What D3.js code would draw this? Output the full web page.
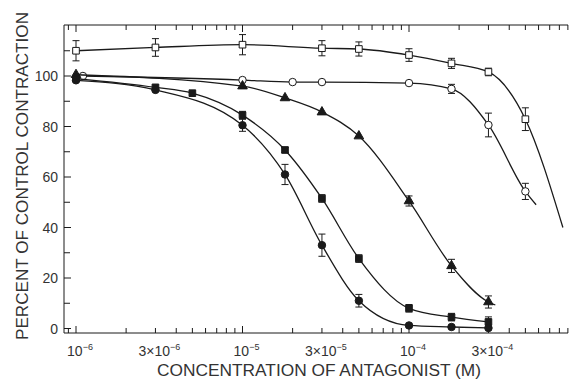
<!DOCTYPE html>
<html>
<head>
<meta charset="utf-8">
<script src="https://cdn.jsdelivr.net/npm/d3@7"></script>
<style>
  body { margin: 0; background: #fff; }
  svg { display: block; font-family: "Liberation Sans", Helvetica, Arial, sans-serif; }
</style>
</head>
<body>
<div id="chart"></div>
<script>
// values (concentration in M, % of control contraction)
const openSquareConc = [1e-6, 3e-6, 1e-5, 3e-5, 5e-5, 1e-4, 1.8e-4, 3e-4, 5e-4];
const openSquarePct  = [110, 111.3, 112.4, 111, 110.7, 108.3, 105, 101.6, 82.9];
const openSquareErr  = [4, 3.5, 4, 3, 2.8, 2.5, 2, 1.5, 4.5];
const openSquareTail = [8.4e-4, 40];

const openCircleConc = [1.1e-6, 1e-5, 2e-5, 3e-5, 1e-4, 1.8e-4, 3e-4, 5e-4];
const openCirclePct  = [100, 98.4, 97.6, 97.6, 97.2, 94.9, 80.6, 54.3];
const openCircleErr  = [0, 0, 0, 0, 0, 1.8, 4.7, 3.2];
const openCircleTail = [5.8e-4, 49];

const triangleConc = [1e-6, 1e-5, 1.8e-5, 3e-5, 5e-5, 1e-4, 1.8e-4, 3e-4];
const trianglePct  = [100.5, 96, 91.3, 85.7, 76.2, 50.5, 24.8, 10.5];
const triangleErr  = [0, 0, 0, 0, 0, 2, 2.6, 2.4];
const triangleTail = [3.3e-4, 9.3];

const filledSquareConc = [1e-6, 3e-6, 5e-6, 1e-5, 1.8e-5, 3e-5, 5e-5, 1e-4, 1.8e-4, 3e-4];
const filledSquarePct  = [99, 95.5, 93.2, 84.5, 70.7, 51.5, 27.7, 8, 4.5, 2.6];
const filledSquareErr  = [0, 0, 0, 1.5, 1, 1.5, 1.5, 1.5, 1.5, 2];

const filledCircleConc = [1e-6, 3e-6, 1e-5, 1.8e-5, 3e-5, 5e-5, 1e-4, 1.8e-4, 3e-4];
const filledCirclePct  = [98.3, 94.5, 80.5, 61, 33, 11, 1.2, 0.6, 0.2];
const filledCircleErr  = [0, 0, 2.4, 4, 4.4, 2.5, 0, 0, 0];

const xTickValues = [1e-6, 3e-6, 1e-5, 3e-5, 1e-4, 3e-4];
const xTickLabels = [["", "10", "-6"], ["3×", "10", "-6"], ["", "10", "-5"], ["3×", "10", "-5"], ["", "10", "-4"], ["3×", "10", "-4"]];
const yTickValues = [0, 20, 40, 60, 80, 100];

const width = 569, height = 380;
const frameLeft = 64, frameRight = 568, frameTop = 25, frameBottom = 333;

const x = d3.scaleLog().domain([1e-6, 1e-3]).range([76, 575.5]);
const y = d3.scaleLinear().domain([0, 100]).range([328.5, 76]);

const svg = d3.select("#chart").append("svg")
    .attr("width", width)
    .attr("height", height)
    .attr("viewBox", [0, 0, width, height]);

const ink = "#1a1a1a";
const textInk = "#333";

// frame: left, top, bottom axis lines
svg.append("g")
    .attr("stroke", ink)
    .attr("stroke-width", 1)
    .call(g => g.append("line").attr("x1", frameLeft).attr("x2", frameLeft).attr("y1", frameTop).attr("y2", frameBottom))
    .call(g => g.append("line").attr("x1", frameLeft).attr("x2", frameRight).attr("y1", frameTop).attr("y2", frameTop))
    .call(g => g.append("line").attr("x1", frameLeft).attr("x2", frameRight).attr("y1", frameBottom).attr("y2", frameBottom));

// log ticks on top and bottom
const logTicks = x.ticks().concat([9e-7]).filter(d => x(d) >= frameLeft && x(d) <= frameRight);
const isDecade = d => Math.abs(Math.log10(d) - Math.round(Math.log10(d))) < 1e-6;

svg.append("g")
    .attr("stroke", ink)
    .attr("stroke-width", 1)
    .call(g => g.selectAll("line.b")
        .data(logTicks)
        .join("line")
        .attr("class", "b")
        .attr("x1", d => x(d)).attr("x2", d => x(d))
        .attr("y1", frameBottom).attr("y2", d => frameBottom - (isDecade(d) ? 7 : 5)))
    .call(g => g.selectAll("line.t")
        .data(logTicks)
        .join("line")
        .attr("class", "t")
        .attr("x1", d => x(d)).attr("x2", d => x(d))
        .attr("y1", frameTop).attr("y2", d => frameTop + (isDecade(d) ? 7 : 5)));

// y ticks
svg.append("g")
    .attr("stroke", ink)
    .attr("stroke-width", 1)
    .selectAll("line")
    .data(d3.range(0, 111, 10))
    .join("line")
    .attr("x1", frameLeft).attr("x2", d => frameLeft + (d % 20 === 0 ? 7 : 6))
    .attr("y1", d => y(d)).attr("y2", d => y(d));

svg.append("g")
    .attr("fill", textInk)
    .attr("font-size", 14)
    .attr("text-anchor", "end")
    .selectAll("text")
    .data(yTickValues)
    .join("text")
    .attr("x", 58)
    .attr("y", d => y(d))
    .attr("dy", "0.36em")
    .text(d => d);

// x tick labels with superscripts
const xl = svg.append("g")
    .attr("fill", textInk)
    .attr("font-size", 14)
    .attr("text-anchor", "middle")
    .selectAll("text")
    .data(xTickValues)
    .join("text")
    .attr("x", d => x(d) + 4)
    .attr("y", 356);
xl.append("tspan").text((d, i) => xTickLabels[i][0] + xTickLabels[i][1]);
xl.append("tspan")
    .attr("font-size", 9)
    .attr("dy", -6)
    .text((d, i) => "\u2212" + xTickLabels[i][2].slice(1));

// axis titles
svg.append("text")
    .attr("x", 319)
    .attr("y", 376)
    .attr("text-anchor", "middle")
    .attr("font-size", 16)
    .attr("fill", textInk)
    .attr("textLength", 324)
    .attr("lengthAdjust", "spacingAndGlyphs")
    .text("CONCENTRATION OF ANTAGONIST (M)");

svg.append("text")
    .attr("transform", "translate(28,176) rotate(-90)")
    .attr("text-anchor", "middle")
    .attr("font-size", 16)
    .attr("fill", textInk)
    .attr("textLength", 328)
    .attr("lengthAdjust", "spacingAndGlyphs")
    .text("PERCENT OF CONTROL CONTRACTION");

// series
const series = [
    {conc: openSquareConc, pct: openSquarePct, err: openSquareErr, tail: openSquareTail, shape: "square", filled: false},
    {conc: openCircleConc, pct: openCirclePct, err: openCircleErr, tail: openCircleTail, shape: "circle", filled: false},
    {conc: triangleConc, pct: trianglePct, err: triangleErr, tail: triangleTail, shape: "triangle", filled: true},
    {conc: filledSquareConc, pct: filledSquarePct, err: filledSquareErr, tail: null, shape: "square", filled: true},
    {conc: filledCircleConc, pct: filledCirclePct, err: filledCircleErr, tail: null, shape: "circle", filled: true}
];

const line = d3.line()
    .x(d => x(d[0]))
    .y(d => y(d[1]))
    .curve(d3.curveMonotoneX);

const symbols = {square: d3.symbolSquare, circle: d3.symbolCircle, triangle: d3.symbolTriangle};
const sizes = {square: 44, circle: 44, triangle: 40};

series.forEach(s => {
    const pts = s.conc.map((c, i) => [c, s.pct[i], s.err[i]]);
    const curvePts = s.tail ? pts.concat([s.tail]) : pts;

    svg.append("path")
        .datum(curvePts)
        .attr("fill", "none")
        .attr("stroke", ink)
        .attr("stroke-width", 1.3)
        .attr("d", line);

    const eb = svg.append("g")
        .attr("stroke", ink)
        .attr("stroke-width", 1)
        .selectAll("g")
        .data(pts.filter(d => d[2] > 0))
        .join("g");
    eb.append("line")
        .attr("x1", d => x(d[0])).attr("x2", d => x(d[0]))
        .attr("y1", d => y(d[1] - d[2])).attr("y2", d => y(d[1] + d[2]));
    [-1, 1].forEach(k => eb.append("line")
        .attr("x1", d => x(d[0]) - 3.5).attr("x2", d => x(d[0]) + 3.5)
        .attr("y1", d => y(d[1] + k * d[2])).attr("y2", d => y(d[1] + k * d[2])));

    svg.append("g")
        .selectAll("path")
        .data(pts)
        .join("path")
        .attr("transform", d => `translate(${x(d[0])},${y(d[1])})`)
        .attr("d", d3.symbol(symbols[s.shape], sizes[s.shape]))
        .attr("fill", s.filled ? ink : "#fff")
        .attr("stroke", ink)
        .attr("stroke-width", 1);
});
</script>
</body>
</html>
